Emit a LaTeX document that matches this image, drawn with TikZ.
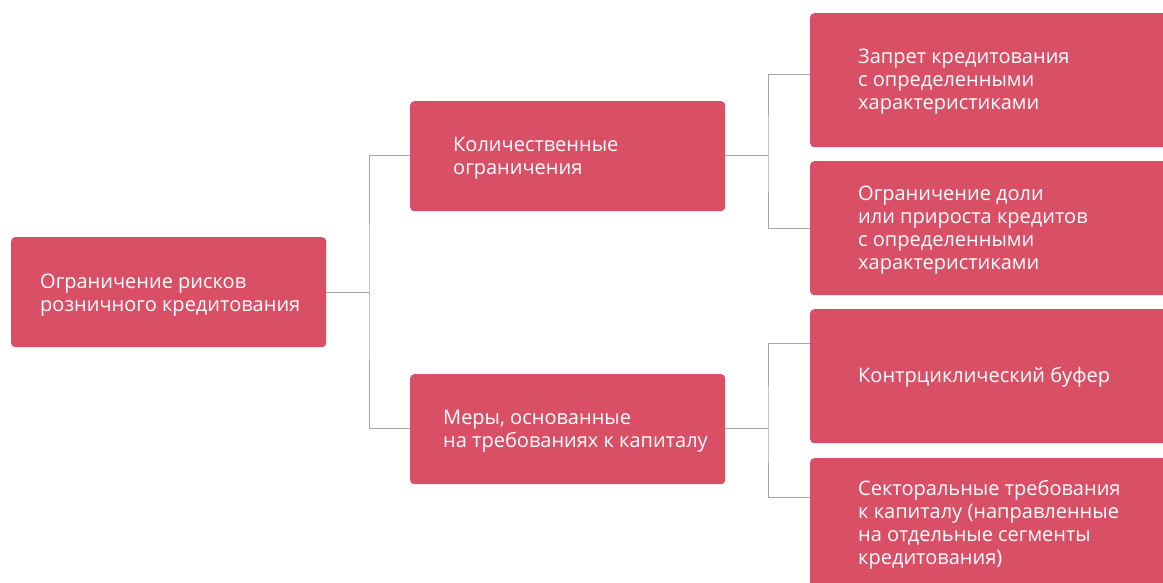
\documentclass[tikz,border=0pt]{standalone}
\usepackage{fontspec}
\setmainfont{Open Sans}
\definecolor{boxred}{HTML}{D94F66}
\definecolor{linegray}{HTML}{A6A6A6}
\begin{document}
\begin{tikzpicture}[x=1pt,y=-1pt,
  box/.style={fill=boxred, draw=none, rounded corners=4pt, anchor=north west, inner sep=0pt},
  lbl/.style={anchor=west, align=left, text=white, inner sep=0pt, font=\fontsize{20}{23}\selectfont},
  conn/.style={draw=linegray, line width=1pt}]
\useasboundingbox (0,0) rectangle (1163,583);
\clip (0,0) rectangle (1163,583);
% boxes
\node[box, minimum width=315pt, minimum height=110pt] (root) at (11,237) {};
\node[box, minimum width=315pt, minimum height=110pt] (qa) at (410,101) {};
\node[box, minimum width=315pt, minimum height=110pt] (cap) at (410,374) {};
\node[box, minimum width=370pt, minimum height=134pt] (r1) at (810,13) {};
\node[box, minimum width=370pt, minimum height=134pt] (r2) at (810,161) {};
\node[box, minimum width=370pt, minimum height=134pt] (r3) at (810,309) {};
\node[box, minimum width=370pt, minimum height=134pt] (r4) at (810,458) {};
% labels
\node[lbl] (rootT) at ([xshift=29pt,yshift=-3pt]root.west) {Ограничение рисков\\розничного кредитования};
\node[lbl] (qaT) at ([xshift=43pt,yshift=-2pt]qa.west) {Количественные\\ограничения};
\node[lbl] (capT) at ([xshift=33pt,yshift=-2pt]cap.west) {Меры, основанные\\на требованиях к капиталу};
\node[lbl] (r1T) at ([xshift=48pt,yshift=-1pt]r1.west) {Запрет кредитования\\с определенными\\характеристиками};
\node[lbl] (r2T) at ([xshift=48pt,yshift=-2pt]r2.west) {Ограничение доли\\или прироста кредитов\\с определенными\\характеристиками};
\node[lbl] (r3T) at ([xshift=48pt,yshift=-1pt]r3.west) {Контрциклический буфер};
\node[lbl] (r4T) at ([xshift=48pt]r4.west) {Секторальные требования\\к капиталу (направленные\\на отдельные сегменты\\кредитования)};
% connector junctions
\coordinate (j0) at (369,292);
\coordinate (j1) at (768,156);
\coordinate (j2) at (768,428);
\draw[conn] (root.east |- j0) -- (j0);
\draw[conn] (qa.west |- 0,156) -| (j0) |- (cap.west |- 0,428);
\draw[conn] (qa.east |- j1) -- (j1);
\draw[conn] (r1.west |- 0,75) -| (j1) |- (r2.west |- 0,229);
\draw[conn] (cap.east |- j2) -- (j2);
\draw[conn] (r3.west |- 0,343) -| (j2) |- (r4.west |- 0,497);
\end{tikzpicture}
\end{document}
